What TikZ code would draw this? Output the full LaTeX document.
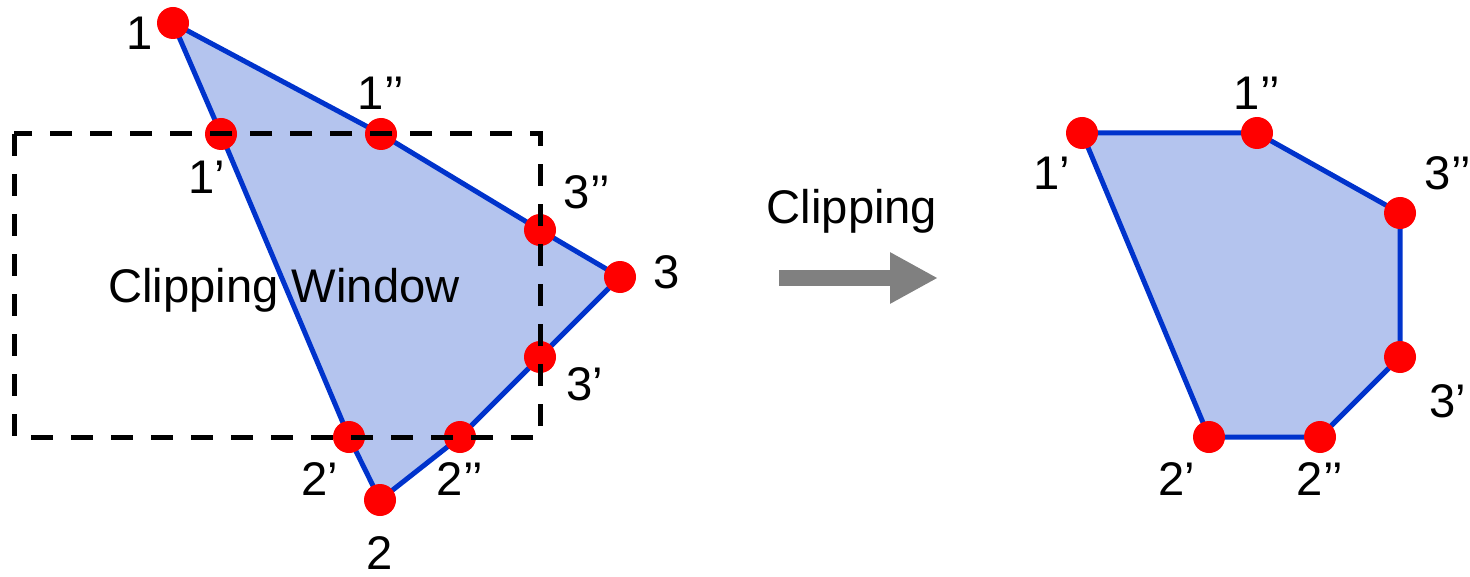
\documentclass[tikz,border=0pt]{standalone}
\usepackage{fontspec}
\setmainfont{Liberation Sans}
\usepackage{tikz}
\usetikzlibrary{arrows.meta,backgrounds}
\usepackage{xcolor}
\definecolor{ink}{HTML}{000000}
\definecolor{edge}{HTML}{0033CC}
\definecolor{polyFill}{HTML}{B4C4EE}
\definecolor{dotRed}{HTML}{FF0000}
\definecolor{arrowGray}{HTML}{808080}
\tikzset{
  base/.style={font=\fontsize{23.6}{28}\selectfont, text=ink},
  lbl/.style={base, anchor=base, inner sep=0pt},
  vtx/.style={circle, fill=dotRed, draw=none, minimum size=16pt, inner sep=0pt},
  poly/.style={draw=edge, fill=polyFill, line width=2.5pt, line join=round},
  window/.style={draw=black, line width=2.5pt, dash pattern=on 11pt off 9pt},
  bigarrow/.style={-{Triangle[length=24pt,width=24pt]}, line width=8pt, draw=arrowGray},
}

\begin{document}
\begin{tikzpicture}[x=0.5pt,y=-0.5pt]
  \useasboundingbox (0,0) rectangle (1470,577);

  % original triangle with its cut points
  \node[vtx] (a1) at (173,23) {};
  \node[vtx] (a1b) at (381,134) {};
  \node[vtx] (a3b) at (540,230) {};
  \node[vtx] (a3) at (620,277) {};
  \node[vtx] (a3a) at (540,357) {};
  \node[vtx] (a2b) at (460,437) {};
  \node[vtx] (a2) at (380,500) {};
  \node[vtx] (a2a) at (349,437) {};
  \node[vtx] (a1a) at (221,134) {};
  \begin{pgfonlayer}{background}
    \draw[poly] (a1.center) -- (a1b.center) -- (a3b.center) -- (a3.center) -- (a3a.center)
      -- (a2b.center) -- (a2.center) -- (a2a.center) -- (a1a.center) -- cycle;
  \end{pgfonlayer}

  \coordinate (winNW) at (14,134);
  \coordinate (winSE) at (540,437);
  \draw[window] (winNW) rectangle (winSE);

  \node[lbl] (t1) at (140,50) {1};
  \node[lbl] (t1b) at (381,110) {1’’};
  \node[lbl] (t1a) at (207,193) {1’};
  \node[lbl] (t3b) at (587,208) {3’’};
  \node[lbl] (t3) at (667,288) {3};
  \node[lbl] (t3a) at (585,400) {3’};
  \node[lbl] (t2a) at (320,495) {2’};
  \node[lbl] (t2b) at (460,495) {2’’};
  \node[lbl] (t2) at (380,569) {2};
  \node[lbl] (win) at (284,302) {Clipping Window};

  % clipping step
  \node[lbl] (step) at (852,223) {Clipping};
  \coordinate (arrS) at (779,278);
  \coordinate (arrE) at (938,278);
  \draw[bigarrow] (arrS) -- (arrE);

  % clipped polygon
  \node[vtx] (b1a) at (1082,133) {};
  \node[vtx] (b1b) at (1257,133) {};
  \node[vtx] (b3b) at (1400,213) {};
  \node[vtx] (b3a) at (1400,357) {};
  \node[vtx] (b2b) at (1320,437) {};
  \node[vtx] (b2a) at (1209,437) {};
  \begin{pgfonlayer}{background}
    \draw[poly] (b1a.center) -- (b1b.center) -- (b3b.center) -- (b3a.center)
      -- (b2b.center) -- (b2a.center) -- cycle;
  \end{pgfonlayer}

  \node[lbl] (s1b) at (1257,110) {1’’};
  \node[lbl] (s1a) at (1052,190) {1’};
  \node[lbl] (s3b) at (1448,190) {3’’};
  \node[lbl] (s3a) at (1448,417) {3’};
  \node[lbl] (s2a) at (1177,495) {2’};
  \node[lbl] (s2b) at (1320,495) {2’’};
\end{tikzpicture}
\end{document}
